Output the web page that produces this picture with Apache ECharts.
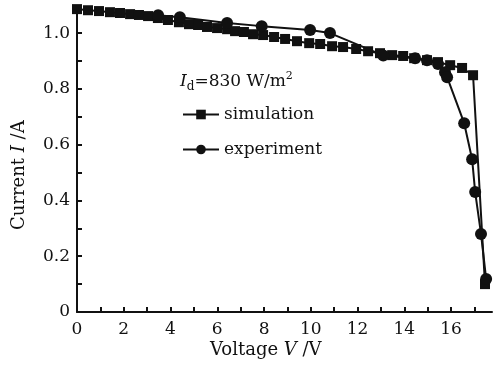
<!DOCTYPE html>
<html>
<head>
<meta charset="utf-8">
<script src="https://cdn.jsdelivr.net/npm/echarts@6/dist/echarts.min.js"></script>
<style>
  html, body { margin: 0; padding: 0; background: #fff; }
  #chart { width: 501px; height: 365px; }
</style>
</head>
<body>
<div id="chart"></div>
<script>
// simulation curve (squares)
var simV = [0, 0.47, 0.94, 1.41, 1.84, 2.27, 2.65, 3.04, 3.46, 3.89, 4.36, 4.79, 5.18, 5.56, 5.99,
  6.42, 6.76, 7.14, 7.53, 7.96, 8.43, 8.90, 9.41, 9.93, 10.40, 10.91, 11.38, 11.94, 12.45,
  12.96, 13.48, 13.95, 14.42, 14.97, 15.44, 15.96, 16.47, 16.94, 17.45];
var simI = [1.086, 1.082, 1.079, 1.075, 1.072, 1.068, 1.065, 1.061, 1.054, 1.047, 1.039, 1.032, 1.029, 1.022, 1.018,
  1.014, 1.007, 1.004, 0.996, 0.993, 0.986, 0.979, 0.971, 0.964, 0.961, 0.953, 0.950, 0.943, 0.935,
  0.928, 0.921, 0.918, 0.910, 0.903, 0.896, 0.885, 0.875, 0.849, 0.100];
// experiment (circles)
var expV = [3.47, 4.40, 6.42, 7.90, 9.97, 10.82, 13.1, 14.46, 14.97, 15.44, 15.74, 15.83, 16.56, 16.90, 17.03, 17.28, 17.50];
var expI = [1.064, 1.057, 1.036, 1.025, 1.011, 1.000, 0.920, 0.910, 0.903, 0.889, 0.860, 0.842, 0.677, 0.548, 0.430, 0.280, 0.118];
// axis ticks / labels
var xLabels = [0, 2, 4, 6, 8, 10, 12, 14, 16];
var xTicks = [1, 2, 3, 4, 5, 6, 7, 8, 9, 10, 11, 12, 13, 14, 15, 16, 17];
var yLabels = [0, 0.2, 0.4, 0.6, 0.8, 1.0];
var yTicks = [0.1, 0.2, 0.3, 0.4, 0.5, 0.6, 0.7, 0.8, 0.9, 1.0];

function zip(a, b) {
  return a.map(function (v, i) { return [v, b[i]]; });
}

var font = 'DejaVu Serif';
var chart = echarts.init(document.getElementById('chart'));
var option = {
  backgroundColor: '#fff',
  animation: false,
  grid: { left: 77, right: 9, top: 8, bottom: 53 },
  legend: {
    orient: 'vertical',
    left: 177,
    top: 101,
    itemWidth: 36,
    itemHeight: 12,
    itemGap: 18,
    textStyle: { fontFamily: font, fontSize: 17, color: '#111' },
    data: ['simulation', 'experiment']
  },
  xAxis: {
    type: 'value',
    min: 0,
    max: 17.75,
    splitLine: { show: false },
    axisLine: { lineStyle: { color: '#111', width: 2 } },
    axisTick: { inside: true, length: 5, customValues: xTicks, lineStyle: { color: '#111', width: 2 } },
    axisLabel: { customValues: xLabels, margin: 9, fontFamily: font, fontSize: 17, color: '#111' }
  },
  yAxis: {
    type: 'value',
    min: 0,
    max: 1.09,
    splitLine: { show: false },
    axisLine: { show: true, lineStyle: { color: '#111', width: 2 } },
    axisTick: { show: true, inside: true, length: 5, customValues: yTicks, lineStyle: { color: '#111', width: 2 } },
    axisLabel: {
      customValues: yLabels, margin: 7, fontFamily: font, fontSize: 17, color: '#111',
      formatter: function (v) { return v === 0 ? '0' : v.toFixed(1); }
    }
  },
  graphic: [
    {
      type: 'text', left: 180, top: 71,
      style: {
        text: '{i|I}{sub|d}{n|=830 W/m}{sup|2}',
        rich: {
          i: { fontFamily: font, fontStyle: 'italic', fontSize: 17, fill: '#111' },
          sub: { fontFamily: font, fontSize: 12, fill: '#111', verticalAlign: 'bottom', padding: [10, 0, 0, 0] },
          n: { fontFamily: font, fontSize: 17, fill: '#111' },
          sup: { fontFamily: font, fontSize: 11, fill: '#111', verticalAlign: 'top', padding: [0, 0, 10, 0] }
        }
      }
    },
    {
      type: 'text', left: 210, top: 341,
      style: {
        text: '{n|Voltage }{i|V}{n| /V}',
        rich: {
          n: { fontFamily: font, fontSize: 18, fill: '#111' },
          i: { fontFamily: font, fontStyle: 'italic', fontSize: 18, fill: '#111' }
        }
      }
    },
    {
      type: 'text', x: 10, y: 230, rotation: Math.PI / 2,
      style: {
        text: '{n|Current }{i|I}{n| /A}',
        rich: {
          n: { fontFamily: font, fontSize: 18, fill: '#111' },
          i: { fontFamily: font, fontStyle: 'italic', fontSize: 18, fill: '#111' }
        }
      }
    }
  ],
  series: [
    {
      name: 'simulation',
      type: 'line',
      data: zip(simV, simI),
      symbol: 'rect',
      symbolSize: 10,
      color: '#111',
      lineStyle: { color: '#111', width: 2 },
      itemStyle: { color: '#111' }
    },
    {
      name: 'experiment',
      type: 'line',
      data: zip(expV, expI),
      symbol: 'circle',
      symbolSize: 12,
      color: '#111',
      lineStyle: { color: '#111', width: 2 },
      itemStyle: { color: '#111' }
    }
  ]
};
chart.setOption(option);
</script>
</body>
</html>
